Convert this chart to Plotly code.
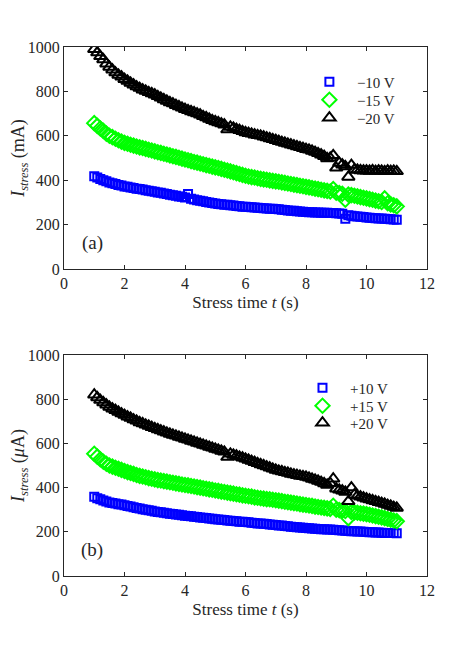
import plotly.graph_objects as go

TIME = [1.0, 1.1, 1.2, 1.3, 1.4, 1.5, 1.6, 1.7, 1.8, 1.9, 2.0, 2.1, 2.2, 2.3, 2.4, 2.5, 2.6, 2.7, 2.8, 2.9,
        3.0, 3.1, 3.2, 3.3, 3.4, 3.5, 3.6, 3.7, 3.8, 3.9, 4.0, 4.1, 4.2, 4.3, 4.4, 4.5, 4.6, 4.7, 4.8, 4.9,
        5.0, 5.1, 5.2, 5.3, 5.4, 5.5, 5.6, 5.7, 5.8, 5.9, 6.0, 6.1, 6.2, 6.3, 6.4, 6.5, 6.6, 6.7, 6.8, 6.9,
        7.0, 7.1, 7.2, 7.3, 7.4, 7.5, 7.6, 7.7, 7.8, 7.9, 8.0, 8.1, 8.2, 8.3, 8.4, 8.5, 8.6, 8.7, 8.8, 8.9,
        9.0, 9.1, 9.2, 9.3, 9.4, 9.5, 9.6, 9.7, 9.8, 9.9, 10.0, 10.1, 10.2, 10.3, 10.4, 10.5, 10.6, 10.7,
        10.8, 10.9, 11.0]

# Panel (a): negative bias, mA
NEG10 = [418, 412, 406, 400, 395, 390, 386, 383, 379, 376, 372, 370, 367, 365, 362, 360, 358, 355, 353, 350,
         348, 345, 343, 340, 338, 335, 332, 330, 327, 325, 322, 338, 316, 313, 310, 307, 305, 302, 300, 297,
         295, 293, 292, 290, 289, 287, 286, 284, 283, 281, 280, 279, 278, 277, 276, 275, 274, 273, 272, 271,
         270, 269, 267, 266, 264, 263, 262, 260, 259, 258, 257, 256, 256, 255, 255, 254, 253, 253, 252, 252,
         251, 250, 249, 226, 242, 240, 238, 237, 235, 234, 232, 231, 230, 229, 228, 227, 226, 225, 224, 223, 222]
NEG15 = [657, 645, 633, 622, 610, 600, 594, 587, 580, 574, 568, 564, 560, 556, 552, 548, 545, 541, 537, 534,
         530, 526, 523, 519, 516, 512, 508, 505, 501, 497, 493, 490, 486, 482, 479, 475, 472, 468, 465, 461,
         458, 455, 451, 447, 444, 440, 436, 432, 428, 424, 420, 417, 414, 412, 409, 406, 404, 402, 399, 397,
         395, 393, 390, 388, 385, 383, 380, 378, 375, 373, 370, 368, 365, 362, 360, 357, 354, 352, 349, 360,
         344, 342, 339, 312, 335, 333, 330, 327, 324, 321, 318, 315, 312, 308, 305, 302, 318, 296, 291, 287, 282]
NEG20 = [990, 975, 958, 944, 925, 910, 898, 885, 874, 866, 855, 847, 838, 830, 822, 815, 808, 802, 796, 791,
         785, 778, 771, 764, 757, 750, 745, 738, 732, 726, 720, 715, 710, 705, 700, 695, 688, 683, 676, 670,
         665, 660, 655, 650, 628, 640, 636, 630, 625, 620, 615, 612, 609, 605, 602, 600, 596, 592, 588, 584,
         580, 576, 572, 568, 564, 560, 556, 552, 548, 544, 540, 537, 532, 527, 521, 515, 508, 498, 500, 512,
         456, 478, 470, 462, 415, 468, 448, 446, 444, 443, 443, 442, 444, 441, 443, 442, 440, 443, 441, 442, 440]

# Panel (b): positive bias, uA
POS10 = [358, 352, 347, 342, 337, 333, 330, 328, 325, 323, 320, 317, 314, 311, 308, 305, 302, 300, 297, 295,
         292, 290, 288, 286, 284, 282, 280, 278, 277, 275, 273, 271, 270, 268, 267, 265, 263, 262, 260, 259,
         257, 256, 254, 253, 251, 250, 249, 248, 246, 245, 244, 243, 241, 240, 238, 237, 236, 235, 233, 232,
         231, 229, 228, 226, 225, 223, 222, 221, 219, 218, 217, 216, 215, 214, 213, 212, 211, 210, 210, 209,
         208, 207, 206, 205, 204, 203, 202, 201, 201, 200, 199, 198, 198, 197, 197, 196, 195, 195, 194, 194, 193]
POS15 = [553, 540, 528, 517, 508, 500, 495, 490, 485, 480, 475, 470, 466, 462, 457, 453, 450, 447, 443, 440,
         437, 434, 432, 429, 427, 424, 422, 419, 417, 414, 412, 410, 407, 405, 402, 400, 397, 395, 392, 390,
         387, 385, 382, 380, 377, 375, 373, 370, 368, 365, 363, 361, 359, 356, 354, 352, 350, 348, 347, 345,
         343, 341, 339, 336, 334, 332, 330, 328, 325, 323, 321, 319, 317, 314, 312, 310, 308, 306, 304, 318,
         300, 298, 296, 294, 262, 290, 288, 286, 284, 282, 280, 277, 274, 271, 268, 265, 262, 258, 255, 251, 248]
POS20 = [820, 808, 796, 785, 775, 765, 757, 750, 742, 735, 728, 721, 715, 708, 702, 695, 690, 684, 679, 673,
         668, 663, 658, 653, 648, 643, 638, 634, 629, 625, 620, 616, 611, 607, 602, 598, 593, 589, 584, 580,
         575, 571, 566, 562, 538, 553, 548, 544, 539, 535, 530, 525, 520, 515, 510, 505, 500, 495, 490, 485,
         480, 476, 473, 469, 466, 462, 459, 456, 453, 451, 448, 444, 439, 435, 430, 425, 419, 412, 420, 440,
         395, 390, 386, 380, 338, 400, 368, 363, 359, 354, 350, 346, 342, 338, 334, 330, 326, 321, 317, 312, 308]

NAMES_A = ["\u221210 V", "\u221215 V", "\u221220 V"]
NAMES_B = ["+10 V", "+15 V", "+20 V"]
X_TICKS = [0, 2, 4, 6, 8, 10, 12]
Y_TICKS = [0, 200, 400, 600, 800, 1000]

FONT = "Liberation Serif, DejaVu Serif, serif"
AX = "#262626"
TXT = "#262626"
STYLES = [
    dict(symbol="square-open", size=8, color="#0000ff"),
    dict(symbol="diamond-open", size=11, color="#00ff00"),
    dict(symbol="triangle-up-open", size=11, color="#000000"),
]
PAD = "\u00a0\u00a0"

fig = go.Figure()

def add_series(ys, names, xa, ya, legends):
    for y, name, st, lg in zip(ys, names, STYLES, legends):
        fig.add_trace(go.Scatter(
            x=TIME, y=y, mode="markers", name=PAD + name, xaxis=xa, yaxis=ya, legend=lg,
            marker=dict(symbol=st["symbol"], size=st["size"], color=st["color"],
                        line=dict(color=st["color"], width=2)),
        ))

add_series([NEG10, NEG15, NEG20], NAMES_A, "x", "y", ["legend", "legend2", "legend3"])
add_series([POS10, POS15, POS20], NAMES_B, "x2", "y2", ["legend4", "legend5", "legend6"])

axis_common = dict(
    showline=True, linecolor=AX, linewidth=1, mirror="ticks",
    ticks="inside", ticklen=4, tickwidth=1, tickcolor=AX,
    showgrid=False, zeroline=False, automargin=False,
    tickfont=dict(family=FONT, size=16, color=TXT),
)

xtitle = dict(text="Stress time <i>t</i> (s)", font=dict(family=FONT, size=17, color=TXT), standoff=4)

def leg(x, y):
    return dict(x=x, y=y, xanchor="left", yanchor="middle", bgcolor="rgba(0,0,0,0)",
                borderwidth=0, font=dict(family=FONT, size=15, color=TXT), tracegroupgap=0)

fig.update_layout(
    width=471, height=646,
    margin=dict(l=56, r=52, t=39, b=78, autoexpand=False),
    paper_bgcolor="white", plot_bgcolor="white",
    font=dict(family=FONT, color=TXT),
    xaxis=dict(domain=[0, 1], range=[0, 12], tickvals=X_TICKS, anchor="y", title=xtitle, **axis_common),
    yaxis=dict(domain=[0.5803, 1], range=[0, 1000], tickvals=Y_TICKS, anchor="x",
               title=dict(text="<i>I</i><sub><i>stress</i></sub> (mA)",
                          font=dict(family=FONT, size=18, color=TXT), standoff=0),
               **axis_common),
    xaxis2=dict(domain=[0, 1], range=[0, 12], tickvals=X_TICKS, anchor="y2", title=xtitle, **axis_common),
    yaxis2=dict(domain=[0, 0.4178], range=[0, 1000], tickvals=Y_TICKS, anchor="x2",
                title=dict(text="<i>I</i><sub><i>stress</i></sub> (<i>\u03bc</i>A)",
                           font=dict(family=FONT, size=18, color=TXT), standoff=0),
                **axis_common),
    legend=leg(0.676, 0.9338),
    legend2=leg(0.676, 0.8998),
    legend3=leg(0.676, 0.8658),
    legend4=leg(0.657, 0.3554),
    legend5=leg(0.657, 0.3214),
    legend6=leg(0.657, 0.2892),
    showlegend=True,
    annotations=[
        dict(text="(a)", x=0.94, y=117, xref="x", yref="y", showarrow=False,
             font=dict(family=FONT, size=19, color=TXT)),
        dict(text="(b)", x=0.94, y=118, xref="x2", yref="y2", showarrow=False,
             font=dict(family=FONT, size=19, color=TXT)),
    ],
)

fig.write_html("out.html")
